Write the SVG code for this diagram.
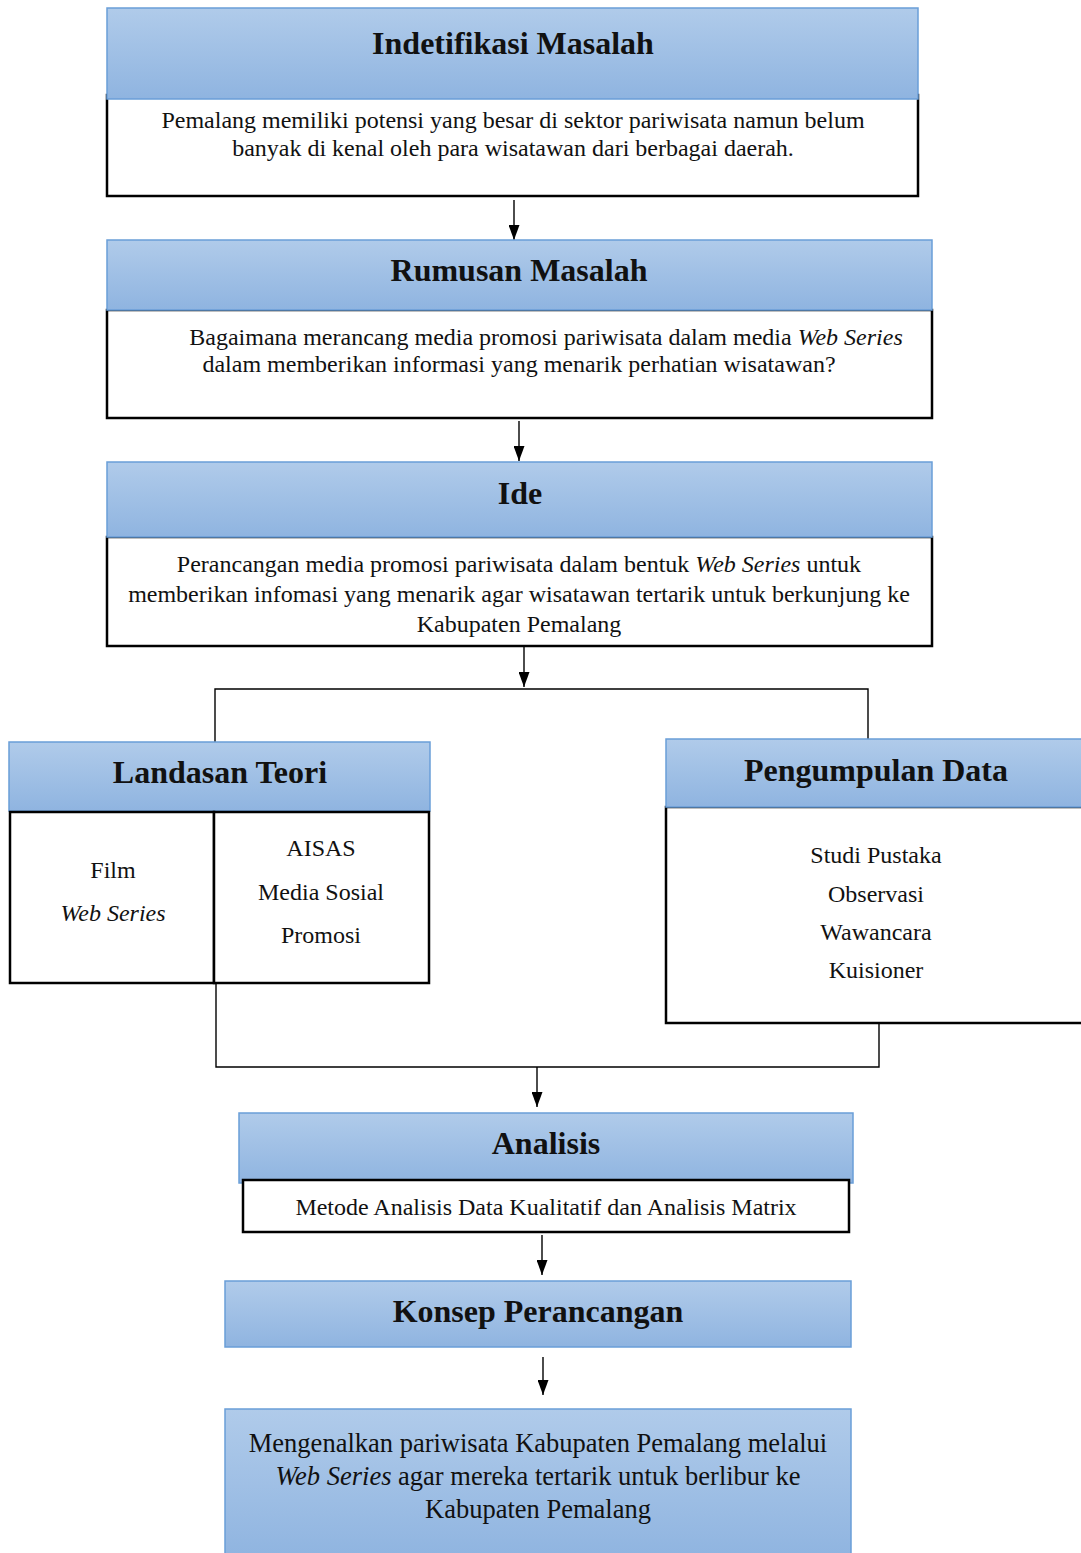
<svg xmlns="http://www.w3.org/2000/svg" width="1081" height="1553" viewBox="0 0 1081 1553">
<defs>
<linearGradient id="hg" x1="0" y1="0" x2="0" y2="1">
<stop offset="0" stop-color="#b0cbea"/>
<stop offset="1" stop-color="#8fb4e0"/>
</linearGradient>
<marker id="ah" viewBox="0 0 15 11" refX="15" refY="5.5" markerWidth="15" markerHeight="11" markerUnits="userSpaceOnUse" orient="auto">
<path d="M0,0 L15,5.5 L0,11 Z" fill="#000"/>
</marker>
<style>
.hd{fill:url(#hg);stroke:#6a9ed8;stroke-width:1.5}
.bd{fill:#fff;stroke:#000;stroke-width:2.5}
.tt{font-family:"Liberation Serif","Times New Roman",serif;font-weight:bold;font-size:32px;text-anchor:middle;fill:#111}
.tx{font-family:"Liberation Serif","Times New Roman",serif;font-size:24px;text-anchor:middle;fill:#111}
.tb{font-family:"Liberation Serif","Times New Roman",serif;font-size:26.5px;text-anchor:middle;fill:#111}
.it{font-style:italic}
.ln{fill:none;stroke:#000;stroke-width:1.4}
.ar{fill:none;stroke:#000;stroke-width:1.4;marker-end:url(#ah)}
</style>
</defs>
<rect width="1081" height="1553" fill="#fff"/>

<g id="connectors">
<line class="ar" x1="514" y1="200" x2="514" y2="240"/>
<line class="ar" x1="519" y1="421" x2="519" y2="461"/>
<line class="ar" x1="524" y1="647" x2="524" y2="687"/>
<polyline class="ln" points="215,742 215,689 868,689 868,739"/>
<polyline class="ln" points="216,983 216,1067 879,1067 879,1023"/>
<line class="ar" x1="537" y1="1067" x2="537" y2="1107"/>
<line class="ar" x1="542" y1="1235" x2="542" y2="1275"/>
<line class="ar" x1="543" y1="1357" x2="543" y2="1395"/>
</g>

<g id="identifikasi">
<rect class="bd" x="107" y="95" width="811" height="101"/>
<rect class="hd" x="107" y="8" width="811" height="91"/>
<text class="tt" x="513" y="54">Indetifikasi Masalah</text>
<text class="tx" x="513" y="128">Pemalang memiliki potensi yang besar di sektor pariwisata namun belum</text>
<text class="tx" x="513" y="156">banyak di kenal oleh para wisatawan dari berbagai daerah.</text>
</g>

<g id="rumusan">
<rect class="bd" x="107" y="310" width="825" height="108"/>
<rect class="hd" x="107" y="240" width="825" height="70"/>
<text class="tt" x="519" y="281">Rumusan Masalah</text>
<text class="tx" x="546" y="345">Bagaimana merancang media promosi pariwisata dalam media <tspan class="it">Web Series</tspan></text>
<text class="tx" x="519" y="372">dalam memberikan informasi yang menarik perhatian wisatawan?</text>
</g>

<g id="ide">
<rect class="bd" x="107" y="537" width="825" height="109"/>
<rect class="hd" x="107" y="462" width="825" height="75"/>
<text class="tt" x="520" y="504">Ide</text>
<text class="tx" x="519" y="572">Perancangan media promosi pariwisata dalam bentuk <tspan class="it">Web Series</tspan> untuk</text>
<text class="tx" x="519" y="602">memberikan infomasi yang menarik agar wisatawan tertarik untuk berkunjung ke</text>
<text class="tx" x="519" y="632">Kabupaten Pemalang</text>
</g>

<g id="landasan">
<rect class="hd" x="9" y="742" width="421" height="69"/>
<text class="tt" x="220" y="783">Landasan Teori</text>
<rect class="bd" x="10" y="812" width="204" height="171"/>
<rect class="bd" x="214" y="812" width="215" height="171"/>
<text class="tx" x="113" y="878">Film</text>
<text class="tx it" x="113" y="921">Web Series</text>
<text class="tx" x="321" y="856">AISAS</text>
<text class="tx" x="321" y="900">Media Sosial</text>
<text class="tx" x="321" y="943">Promosi</text>
</g>

<g id="pengumpulan">
<rect class="bd" x="666" y="807" width="420" height="216"/>
<rect class="hd" x="666" y="739" width="420" height="68"/>
<text class="tt" x="876" y="781">Pengumpulan Data</text>
<text class="tx" x="876" y="863">Studi Pustaka</text>
<text class="tx" x="876" y="902">Observasi</text>
<text class="tx" x="876" y="940">Wawancara</text>
<text class="tx" x="876" y="978">Kuisioner</text>
</g>

<g id="analisis">
<rect class="hd" x="239" y="1113" width="614" height="70"/>
<text class="tt" x="546" y="1154">Analisis</text>
<rect class="bd" x="243" y="1180" width="606" height="52"/>
<text class="tx" x="546" y="1215">Metode Analisis Data Kualitatif dan Analisis Matrix</text>
</g>

<g id="konsep">
<rect class="hd" x="225" y="1281" width="626" height="66"/>
<text class="tt" x="538" y="1322">Konsep Perancangan</text>
</g>

<g id="hasil">
<rect class="hd" x="225" y="1409" width="626" height="150"/>
<text class="tb" x="538" y="1452">Mengenalkan pariwisata Kabupaten Pemalang melalui</text>
<text class="tb" x="538" y="1485"><tspan class="it">Web Series</tspan> agar mereka tertarik untuk berlibur ke</text>
<text class="tb" x="538" y="1518">Kabupaten Pemalang</text>
</g>
</svg>
